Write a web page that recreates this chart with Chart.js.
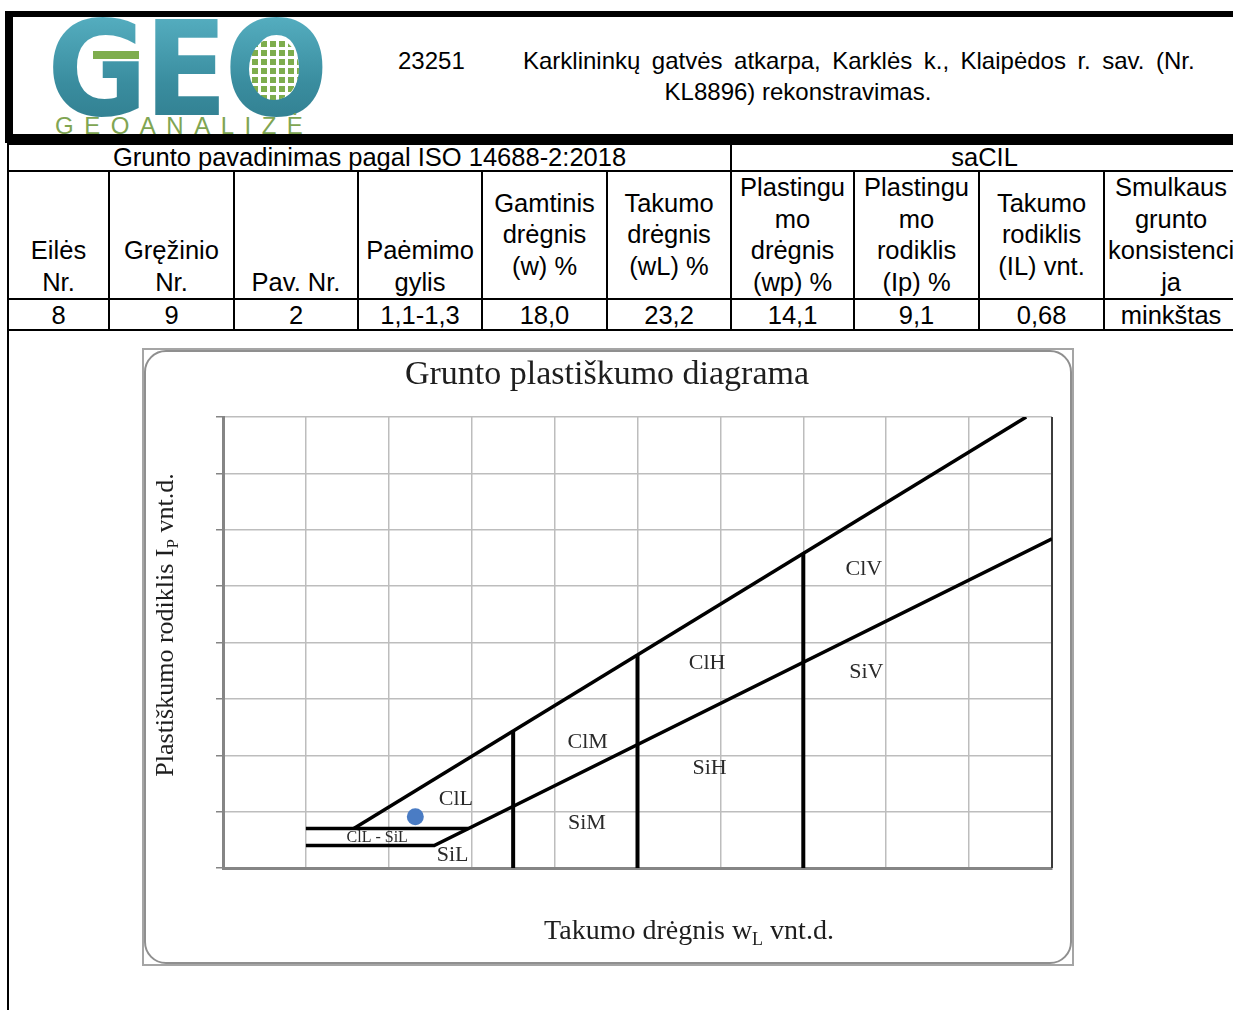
<!DOCTYPE html>
<html><head><meta charset="utf-8">
<script src="https://cdn.jsdelivr.net/npm/chart.js@4.4.0/dist/chart.umd.min.js"></script>
<style>
html,body{margin:0;padding:0;width:1233px;height:1010px;overflow:hidden;background:#fff;font-family:"Liberation Sans",Arial,sans-serif;color:#000}
#hdr{position:absolute;left:5px;top:11px;width:1300px;height:117px;border-top:6px solid #000;border-left:8px solid #000;border-bottom:9px solid #000;overflow:hidden}
#hdr div{position:absolute;white-space:nowrap}
.geo{left:34px;top:-14px;font-family:"DejaVu Sans",sans-serif;font-weight:bold;font-size:132px;line-height:132px;letter-spacing:-4px;transform:scaleX(0.93);transform-origin:0 0;color:#3f93a5;background:linear-gradient(180deg,#5ab4c6 0%,#3a8d9f 60%,#2f7c8d 100%);-webkit-background-clip:text;background-clip:text;-webkit-text-fill-color:transparent}
.gbar{left:80px;top:34px;width:46px;height:8px;background:#7ead4d}
.ogrid{left:236px;top:21px;width:50px;height:62px;border-radius:50%;background-color:#7ead4d;background-image:linear-gradient(90deg,#fff 3px,transparent 3px),linear-gradient(#fff 3px,transparent 3px);background-size:9px 9px}
.sub{left:42px;top:97px;font-size:24px;line-height:24px;letter-spacing:10.5px;color:#80a552}
.t{font-size:24px;line-height:28px}
table{position:absolute;left:7px;top:143px;border-collapse:collapse;table-layout:fixed;width:1230px}
td{border:2px solid #000;padding:0 1px;text-align:center;font-size:25.5px;line-height:31.5px;overflow:hidden;white-space:nowrap}
tr.r1 td{height:25px;line-height:25px}
tr.r2 td{height:125px}
tr.r3 td{height:29px;line-height:26px}
td.b{vertical-align:bottom}
td.m{vertical-align:middle}
#lline{position:absolute;left:7px;top:328px;width:2px;height:700px;background:#000}
#chartWrap{position:absolute;left:143px;top:349px;width:930px;height:616px}
#frame{position:absolute;left:142px;top:348px;width:932px;height:618px;box-sizing:border-box;border:2px solid #a5a5a5;pointer-events:none}
#frame2{position:absolute;left:0;top:0;right:0;bottom:0;border:2px solid #8f8f8f;border-radius:22px}
</style></head>
<body>
<div id="hdr">
  <div class="geo">GEO</div>
  <div class="gbar"></div>
  <div class="ogrid"></div>
  <div class="sub">GEOANALIZĖ</div>
  <div class="t" style="left:385px;top:30px">23251</div>
  <div class="t" style="left:510px;top:30px;word-spacing:4.8px">Karklininkų gatvės atkarpa, Karklės k., Klaipėdos r. sav. (Nr.</div>
  <div class="t" style="left:485px;top:61px;width:600px;text-align:center">KL8896) rekonstravimas.</div>
</div>
<table>
<colgroup><col style="width:101px"><col style="width:125px"><col style="width:124px"><col style="width:124px"><col style="width:125px"><col style="width:124px"><col style="width:123px"><col style="width:125px"><col style="width:125px"><col style="width:134px"></colgroup>
<tr class="r1"><td colspan="6">Grunto pavadinimas pagal ISO 14688-2:2018</td><td colspan="4">saCIL</td></tr>
<tr class="r2">
<td class="b">Eilės<br>Nr.</td>
<td class="b">Gręžinio<br>Nr.</td>
<td class="b">Pav. Nr.</td>
<td class="b">Paėmimo<br>gylis</td>
<td class="m">Gamtinis<br>drėgnis<br>(w) %</td>
<td class="m">Takumo<br>drėgnis<br>(wL) %</td>
<td class="m">Plastingu<br>mo<br>drėgnis<br>(wp) %</td>
<td class="m">Plastingu<br>mo<br>rodiklis<br>(Ip) %</td>
<td class="m">Takumo<br>rodiklis<br>(IL) vnt.</td>
<td class="m">Smulkaus<br>grunto<br>konsistenci<br>ja</td>
</tr>
<tr class="r3"><td>8</td><td>9</td><td>2</td><td>1,1-1,3</td><td>18,0</td><td>23,2</td><td>14,1</td><td>9,1</td><td>0,68</td><td>minkštas</td></tr>
</table>
<div id="lline"></div>
<div id="chartWrap"><canvas id="c"></canvas></div>
<div id="frame"><div id="frame2"></div></div>
<script>
// Axis ranges / grid
const xRange = [0, 100];
const yRange = [0, 80];
const gridStep = [10, 10];
// Boundary lines (wL %, Ip %)
const lowerBoundaryX = [10, 25.48, 100];     // Ip = 4 then A-line
const lowerBoundaryY = [4, 4, 58.4];
const upperClSiX = [10, 29.59];              // Ip = 7
const upperClSiY = [7, 7];
const uLineX = [15.78, 96.89];
const uLineY = [7, 80];
const dividerX = [35, 50, 70];
const dividerTopY = [24.3, 37.8, 55.8];
// Sample
const sampleWL = [23.2];
const sampleIP = [9.1];
// Zone labels
const zoneNames = ["ClL", "ClL - SiL", "SiL", "ClM", "SiM", "ClH", "SiH", "ClV", "SiV"];
const zoneX = [28.1, 18.6, 27.7, 44.0, 43.9, 58.4, 58.7, 77.3, 77.6];
const zoneY = [12.2, 5.3, 2.3, 22.3, 8.0, 36.3, 17.7, 53.0, 34.8];
const chartTitle = "Grunto plastiškumo diagrama";

function pts(xs, ys){ return xs.map((x,i)=>({x:x, y:ys[i]})); }
const lineStyle = {type:'line', showLine:true, borderColor:'#000', borderWidth:3.5, pointRadius:0, fill:false, tension:0, order:1};
const datasets = [
  Object.assign({data:pts(lowerBoundaryX, lowerBoundaryY)}, lineStyle),
  Object.assign({data:pts(upperClSiX, upperClSiY)}, lineStyle),
  Object.assign({data:pts(uLineX, uLineY)}, lineStyle)
];
dividerX.forEach((x,i)=>{
  datasets.push(Object.assign({}, lineStyle, {borderWidth:4, data:pts([x,x],[0,dividerTopY[i]])}));
});
datasets.push({type:'scatter', data:pts(sampleWL, sampleIP), backgroundColor:'#4a7cc4', borderWidth:0, pointRadius:8.5, order:0});

function drawRich(ctx, parts, cx, cy, size){
  let w = 0;
  parts.forEach(p=>{ ctx.font = (p[1]? Math.round(size*0.65) : size) + 'px "Liberation Serif"'; w += ctx.measureText(p[0]).width; });
  let x = cx - w/2;
  ctx.textAlign = 'left'; ctx.textBaseline = 'middle';
  parts.forEach(p=>{
    ctx.font = (p[1]? Math.round(size*0.65) : size) + 'px "Liberation Serif"';
    ctx.fillText(p[0], x, p[1] ? cy + size*0.28 : cy);
    x += ctx.measureText(p[0]).width;
  });
}

const decor = {
  id:'decor',
  beforeDatasetsDraw(chart){
    const {ctx, chartArea:a} = chart;
    ctx.save();
    ctx.strokeStyle = '#3c3c3c'; ctx.lineWidth = 2;
    ctx.beginPath(); ctx.moveTo(a.right, a.top); ctx.lineTo(a.right, a.bottom); ctx.stroke();
    ctx.restore();
  },
  afterDatasetsDraw(chart){
    const {ctx} = chart; const xs = chart.scales.x, ys = chart.scales.y;
    ctx.save();
    ctx.fillStyle = '#2a2a2a'; ctx.textAlign = 'center'; ctx.textBaseline = 'middle';
    zoneNames.forEach((n,i)=>{
      ctx.font = (n.length > 4 ? 16 : 22) + 'px "Liberation Serif"';
      ctx.fillText(n, xs.getPixelForValue(zoneX[i]), ys.getPixelForValue(zoneY[i]));
    });
    ctx.restore();
  },
  afterDraw(chart){
    const {ctx} = chart;
    ctx.save();
    ctx.fillStyle = '#1e1e1e'; ctx.textAlign = 'center'; ctx.textBaseline = 'middle';
    ctx.font = '34px "Liberation Serif"';
    ctx.fillText(chartTitle, 464, 26);
    drawRich(ctx, [["Takumo drėgnis w",0],["L",1],[" vnt.d.",0]], 546, 583, 28);
    ctx.translate(23, 276); ctx.rotate(-Math.PI/2);
    drawRich(ctx, [["Plastiškumo rodiklis I",0],["P",1],[" vnt.d.",0]], 0, 0, 26);
    ctx.restore();
  }
};

new Chart(document.getElementById('c'), {
  type:'scatter',
  data:{datasets:datasets},
  options:{
    animation:false, responsive:true, maintainAspectRatio:false,
    layout:{padding:{top:68, right:21, left:0, bottom:0}},
    plugins:{legend:{display:false}, tooltip:{enabled:false}, title:{display:false}},
    scales:{
      x:{type:'linear', min:xRange[0], max:xRange[1], ticks:{display:false, stepSize:gridStep[0]},
         grid:{color:'#bdbdbd', lineWidth:1.5, drawTicks:false}, border:{color:'#858585', width:3},
         afterFit:s=>{ s.height = 97; }},
      y:{type:'linear', min:yRange[0], max:yRange[1], ticks:{display:false, stepSize:gridStep[1]},
         grid:{color:'#bdbdbd', lineWidth:1.5, tickLength:7, tickColor:'#858585'}, border:{color:'#858585', width:3},
         afterFit:s=>{ s.width = 80; }}
    }
  },
  plugins:[decor]
});
</script>
</body></html>
